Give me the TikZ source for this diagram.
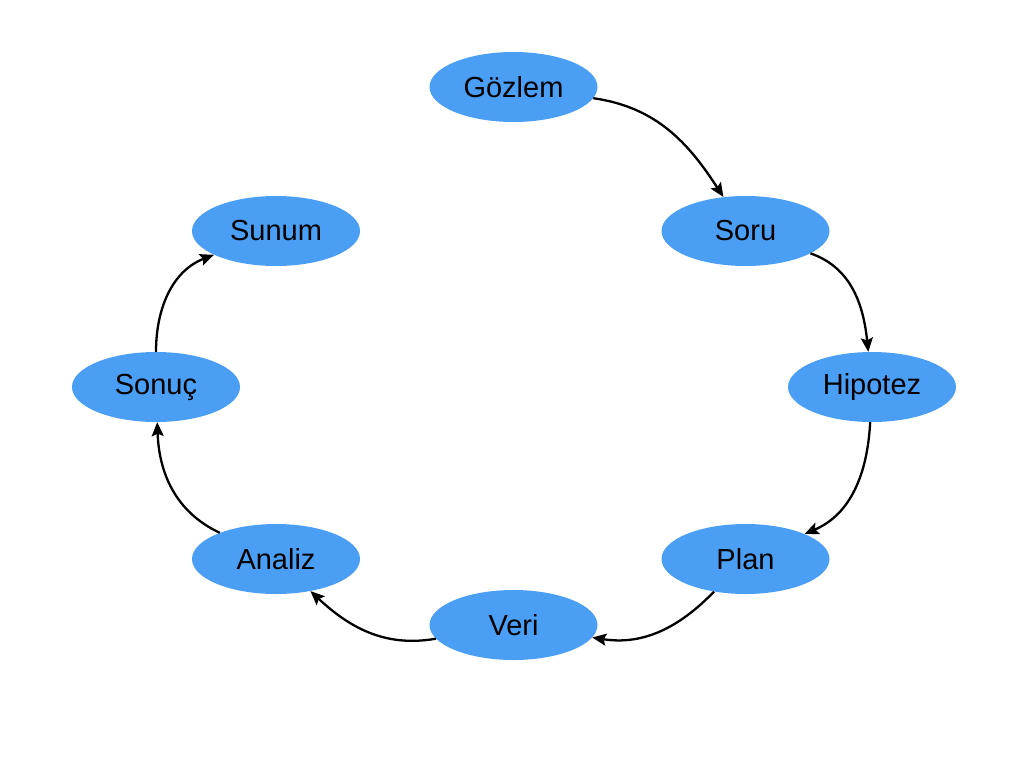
\documentclass[tikz,border=0pt]{standalone}
\usepackage{fontspec}
\setmainfont{Liberation Sans}
\usetikzlibrary{shapes.geometric,arrows.meta}
\definecolor{stepblue}{HTML}{4A9FF5}
\begin{document}
\begin{tikzpicture}[x=1pt,y=-1pt,
  stage/.style={ellipse,fill=stepblue,draw=none,minimum width=168pt,minimum height=70pt,
    inner sep=0pt,font=\fontsize{29}{33}\selectfont},
  flow/.style={-{Stealth[length=14pt,width=12pt,inset=2.5pt]},line width=2.3pt}]
\useasboundingbox (0,0) rectangle (1024,768);
\node[stage] (gozlem)  at (513.5,87)  {Gözlem};
\node[stage] (soru)    at (745.5,231) {Soru};
\node[stage] (hipotez) at (872,387)   {Hipotez};
\node[stage] (plan)    at (745.5,559) {Plan};
\node[stage] (veri)    at (513.5,625) {Veri};
\node[stage] (analiz)  at (276,559)   {Analiz};
\node[stage] (sonuc)   at (156,387)   {Sonuç};
\node[stage] (sunum)   at (276,231)   {Sunum};
\draw[flow] (gozlem)  to[out=-8,in=123]   (soru);
\draw[flow] (soru)    to[out=-19,in=96]   (hipotez);
\draw[flow] (hipotez) to[out=-93,in=23]   (plan);
\draw[flow] (plan)    to[out=226,in=-9]   (veri);
\draw[flow] (veri)    to[out=190,in=-43]  (analiz);
\draw[flow] (analiz)  to[out=155,in=-88]  (sonuc);
\draw[flow] (sonuc)   to[out=90,in=201]   (sunum);
\end{tikzpicture}
\end{document}
